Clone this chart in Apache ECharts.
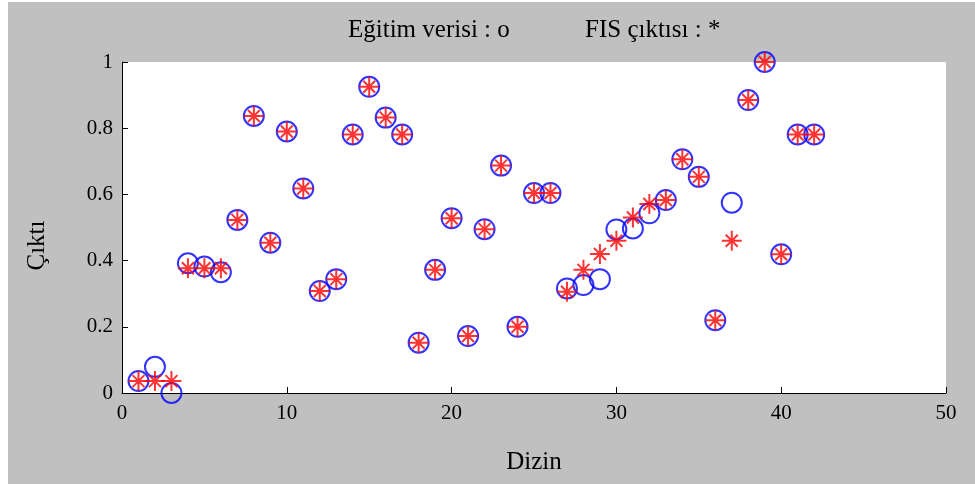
<!DOCTYPE html>
<html>
<head>
<meta charset="utf-8">
<script src="https://cdn.jsdelivr.net/npm/echarts@6/dist/echarts.min.js"></script>
<style>html,body{margin:0;padding:0;background:#fff;}#c{width:975px;height:484px;}</style>
</head>
<body>
<div id="c"></div>
<script>
var indices = [1,2,3,4,5,6,7,8,9,10,11,12,13,14,15,16,17,18,19,20,21,22,23,24,25,26,27,28,29,30,31,32,33,34,35,36,37,38,39,40,41,42];
var egitimVerisi = [0.036,0.079,0.0,0.392,0.382,0.365,0.523,0.837,0.454,0.79,0.618,0.308,0.344,0.781,0.925,0.832,0.781,0.152,0.372,0.528,0.172,0.495,0.687,0.2,0.604,0.604,0.316,0.326,0.344,0.494,0.497,0.543,0.583,0.706,0.653,0.22,0.575,0.885,1.0,0.419,0.781,0.781];
var fisCiktisi = [0.036,0.036,0.036,0.377,0.377,0.377,0.523,0.837,0.454,0.79,0.618,0.308,0.344,0.781,0.925,0.832,0.781,0.152,0.372,0.528,0.172,0.495,0.687,0.2,0.604,0.604,0.306,0.372,0.42,0.46,0.53,0.571,0.583,0.706,0.653,0.22,0.46,0.885,1.0,0.419,0.781,0.781];
var xTicks = [0,10,20,30,40,50];
var yTicks = [0,0.2,0.4,0.6,0.8,1];

function pairs(ys){ return indices.map(function(x,i){ return [x, ys[i]]; }); }

var FONT = 'Liberation Serif';
var chart = echarts.init(document.getElementById('c'), null, {renderer:'canvas'});
chart.setOption({
  backgroundColor: '#ffffff',
  animation: false,
  graphic: [{type:'rect', z:-10, silent:true, shape:{x:8,y:2,width:967,height:482}, style:{fill:'#c0c0c0'}}],
  title: [
    {text:'Eğitim verisi : o', left:343, top:13, textStyle:{fontFamily:FONT, fontSize:25, fontWeight:'normal', color:'#000'}},
    {text:'FIS çıktısı : *', left:580, top:13, textStyle:{fontFamily:FONT, fontSize:25, fontWeight:'normal', color:'#000'}}
  ],
  grid: {left:122, right:29, top:62, bottom:91, show:true, backgroundColor:'#ffffff', borderWidth:0},
  xAxis: {
    type:'value', min:xTicks[0], max:xTicks[xTicks.length-1], interval:10,
    name:'Dizin', nameLocation:'middle', nameGap:57,
    nameTextStyle:{fontFamily:FONT, fontSize:25, color:'#000'},
    axisLine:{show:true, onZero:false, lineStyle:{color:'#000', width:1}},
    axisTick:{show:true, inside:true, length:6, lineStyle:{color:'#000'}},
    axisLabel:{fontFamily:FONT, fontSize:21, color:'#000', margin:10},
    splitLine:{show:false}
  },
  yAxis: {
    type:'value', min:yTicks[0], max:yTicks[yTicks.length-1], interval:0.2,
    name:'Çıktı', nameLocation:'middle', nameGap:72, nameRotate:90,
    nameTextStyle:{fontFamily:FONT, fontSize:25, color:'#000', padding:[0,36,0,0]},
    axisLine:{show:true, onZero:false, lineStyle:{color:'#000', width:1}},
    axisTick:{show:true, inside:true, length:6, lineStyle:{color:'#000'}},
    axisLabel:{fontFamily:FONT, fontSize:21, color:'#000', margin:9},
    splitLine:{show:false}
  },
  series: [
    {name:'Eğitim verisi', type:'scatter', data:pairs(egitimVerisi), symbol:'circle', symbolSize:20, clip:false,
     itemStyle:{color:'rgba(0,0,0,0)', borderColor:'#0000ff', borderWidth:2}},
    {name:'FIS çıktısı', type:'scatter', data:pairs(fisCiktisi), clip:false,
     symbol:'path://M0,10 L20,10 M10,0 L10,20 M4,4 L16,16 M16,4 L4,16', symbolSize:20,
     itemStyle:{color:'rgba(0,0,0,0)', borderColor:'#ff0000', borderWidth:2}}
  ]
});
</script>
</body>
</html>
